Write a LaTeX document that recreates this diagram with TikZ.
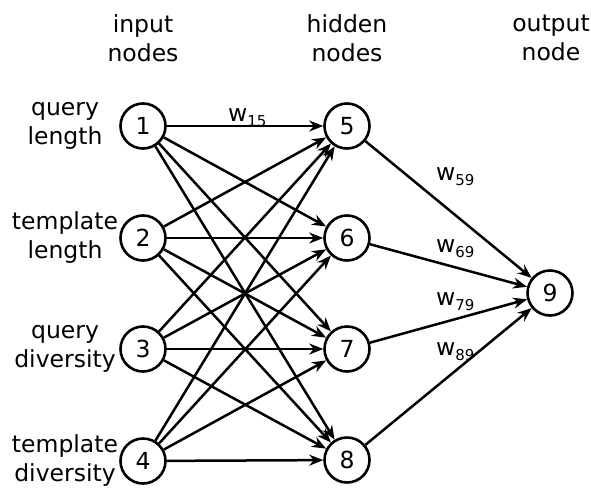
\documentclass[tikz,border=0pt]{standalone}
\usepackage{fontspec}
\setmainfont{DejaVu Sans}
\usetikzlibrary{arrows.meta}
\begin{document}
\begin{tikzpicture}[x=1pt,y=-1pt,
  neuron/.style={circle,draw,line width=2.6pt,minimum size=45pt,inner sep=0pt,font=\fontsize{23.5}{29}\selectfont},
  lbl/.style={align=center,font=\fontsize{23.5}{29}\selectfont,inner sep=0pt},
  wlbl/.style={anchor=base west,inner sep=0pt,font=\fontsize{23.5}{29}\selectfont},
  conn/.style={line width=2.5pt,-{Stealth[length=14pt,width=11pt]}}]
\useasboundingbox (0,0) rectangle (591,487);
% headers
\node[lbl] (hin) at (143,38) {input\\nodes};
\node[lbl] (hhid) at (347,38) {hidden\\nodes};
\node[lbl] (hout) at (551,38) {output\\node};
% input labels
\node[lbl] (t1) at (65,126) {query\\length};
\node[lbl] (t2) at (65,238) {template\\length};
\node[lbl] (t3) at (65,349) {query\\diversity};
\node[lbl] (t4) at (65,461) {template\\diversity};
% nodes
\node[neuron] (n1) at (143,126) {1};
\node[neuron] (n2) at (143,238) {2};
\node[neuron] (n3) at (143,349) {3};
\node[neuron] (n4) at (143,461) {4};
\node[neuron] (n5) at (347,126) {5};
\node[neuron] (n6) at (347,238) {6};
\node[neuron] (n7) at (347,349) {7};
\node[neuron] (n8) at (347,460) {8};
\node[neuron] (n9) at (550,293) {9};
% connectors
\foreach \i in {1,2,3,4}{
  \foreach \j in {5,6,7,8}{
    \draw[conn] (n\i) -- (n\j);
  }
}
\foreach \j in {5,6,7,8}{
  \draw[conn] (n\j) -- (n9);
}
% weight labels
\newcommand{\wsub}[1]{w\raisebox{-5.5pt}{\fontsize{15}{15}\selectfont #1}}
\node[wlbl] (w15) at (228,121) {\wsub{15}};
\node[wlbl] (w59) at (436,180) {\wsub{59}};
\node[wlbl] (w69) at (436,252) {\wsub{69}};
\node[wlbl] (w79) at (436,305) {\wsub{79}};
\node[wlbl] (w89) at (436,355) {\wsub{89}};
\end{tikzpicture}
\end{document}
